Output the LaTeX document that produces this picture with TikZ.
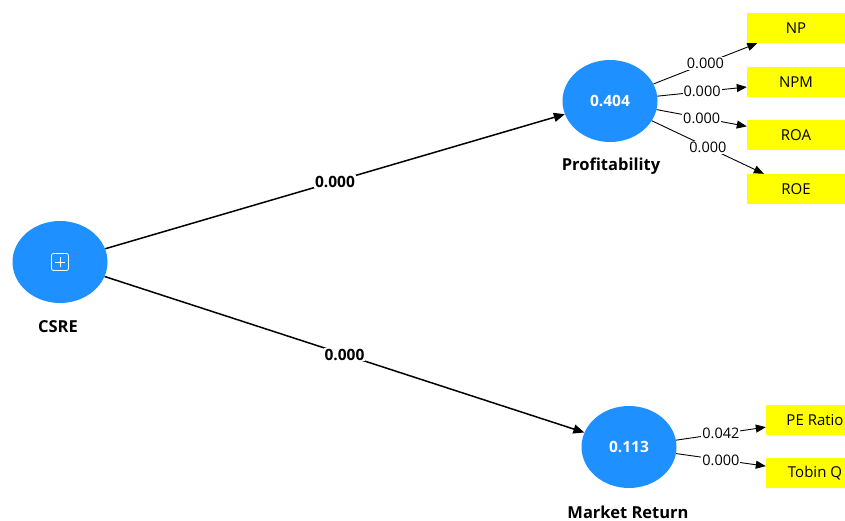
\documentclass[tikz,border=0pt]{standalone}
\usepackage{fontspec}
\setmainfont{Open Sans}
\usetikzlibrary{arrows.meta, positioning, shapes.geometric}
\definecolor{latentblue}{HTML}{1E90FF}
\definecolor{itemyellow}{HTML}{FFFF00}

\begin{document}
\begin{tikzpicture}[
    x=1pt, y=-1pt,
    latent/.style={ellipse, fill=latentblue, minimum width=95pt, minimum height=82pt,
                   inner sep=0pt, text=white, font=\bfseries\fontsize{15.5}{18}\selectfont},
    item/.style={rectangle, fill=itemyellow, minimum width=98pt, minimum height=30pt,
                 inner sep=0pt, font=\fontsize{15}{18}\selectfont},
    lvname/.style={font=\bfseries\fontsize{16.5}{19}\selectfont},
    structpath/.style={-{Triangle[length=11pt,width=9pt]}, line width=1.5pt},
    loadpath/.style={-{Triangle[length=10pt,width=8pt]}, line width=0.9pt},
    coef/.style={fill=white, inner sep=1pt, font=\bfseries\fontsize{15.5}{18}\selectfont},
    loadcoef/.style={fill=white, inner sep=1pt, font=\fontsize{14.5}{17}\selectfont}
]
\clip (0,0) rectangle (845,521);

% Latent variables
\node[latent] (csre) at (60,262) {};
\node[latent] (prof) at (610,101) {0.404};
\node[latent] (mret) at (629,447) {0.113};
\node[lvname] (csrelbl) at (58,327) {CSRE};
\node[lvname] (proflbl) at (611,166) {Profitability};
\node[lvname] (mretlbl) at (628,512) {Market Return};

% expand icon on CSRE
\node[draw=white, line width=0.8pt, rounded corners=2pt, minimum size=17pt, inner sep=0pt] (expand) at (csre) {};
\draw[white, line width=0.8pt] ([yshift=-4pt]expand.north) -- ([yshift=4pt]expand.south);
\draw[white, line width=0.8pt] ([xshift=4pt]expand.west) -- ([xshift=-4pt]expand.east);

% Indicators
\node[item] (np) at (796,28) {NP};
\node[item] (npm) at (796,82) {NPM};
\node[item] (roa) at (796,135.5) {ROA};
\node[item] (roe) at (796,189) {ROE};
\node[item] (pe) at (815,420) {PE Ratio};
\node[item] (tobin) at (815,473) {Tobin Q};

% Structural paths
\draw[structpath] (csre) -- node[coef] {0.000} (prof);
\draw[structpath] (csre) -- node[coef] {0.000} (mret);

% Outer loadings
\draw[loadpath] (prof) -- node[loadcoef] {0.000} (np);
\draw[loadpath] (prof) -- node[loadcoef] {0.000} (npm);
\draw[loadpath] (prof) -- node[loadcoef] {0.000} (roa);
\draw[loadpath] (prof) -- node[loadcoef] {0.000} (roe);
\draw[loadpath] (mret) -- node[loadcoef] {0.042} (pe);
\draw[loadpath] (mret) -- node[loadcoef] {0.000} (tobin);

\end{tikzpicture}
\end{document}
